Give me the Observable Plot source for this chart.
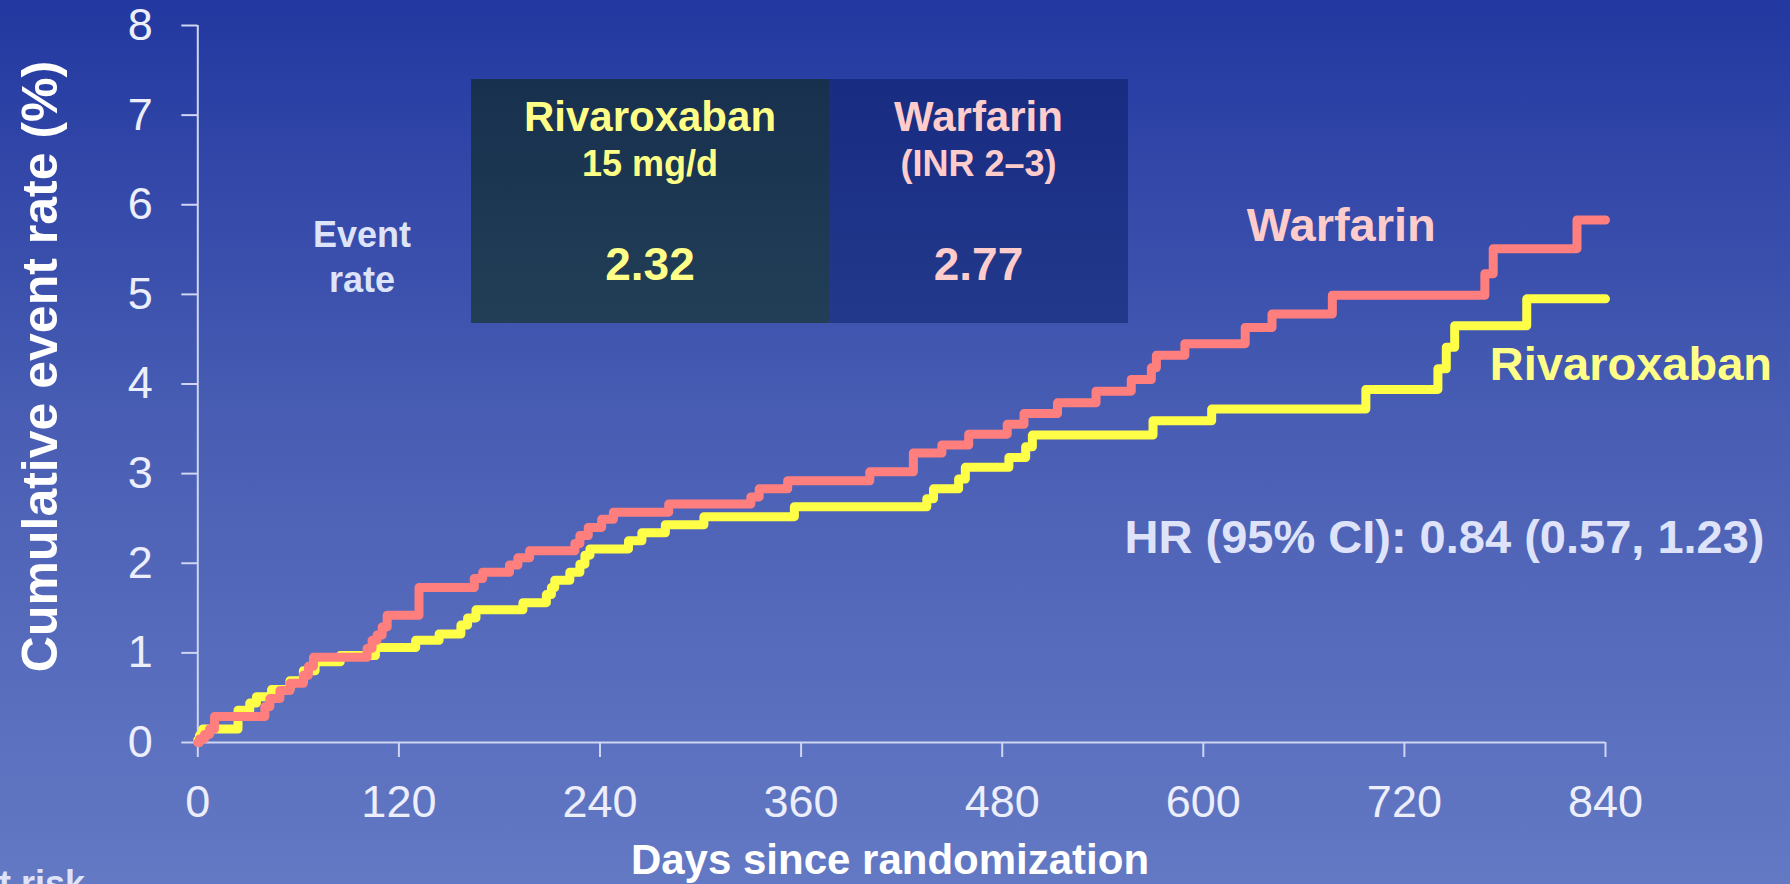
<!DOCTYPE html>
<html>
<head>
<meta charset="utf-8">
<script src="https://cdn.jsdelivr.net/npm/d3@7"></script>
<script src="https://cdn.jsdelivr.net/npm/@observablehq/plot@0.6"></script>
<style>
  html, body { margin: 0; padding: 0; overflow: hidden; }
  #stage {
    position: relative; width: 1790px; height: 884px; overflow: hidden;
    background: linear-gradient(to bottom, #2338a0 0%, #4a5fb4 50%, #6479c4 100%);
    font-family: "Liberation Sans", Arial, Helvetica, sans-serif;
  }
  .cell { position: absolute; }
  #plot, #overlay { position: absolute; left: 0; top: 0; }
  #overlay { pointer-events: none; }
</style>
</head>
<body>
<div id="stage">
  <div class="cell" style="left:471px;top:79px;width:358px;height:244px;background:linear-gradient(to bottom,#17304e,#223f57);"></div>
  <div class="cell" style="left:829px;top:79px;width:299px;height:244px;background:linear-gradient(to bottom,#182c82,#22398b);"></div>
  <div id="plot"></div>
  <svg id="overlay" width="1790" height="884" font-family='"Liberation Sans", Arial, Helvetica, sans-serif' font-weight="bold">
    <text transform="translate(57,366.5) rotate(-90)" text-anchor="middle" font-size="50" fill="#ffffff">Cumulative event rate (%)</text>
    <text x="890" y="874" text-anchor="middle" font-size="42" fill="#ffffff">Days since randomization</text>
    <text x="362" y="246.7" text-anchor="middle" font-size="36" fill="#dde3f8">Event</text>
    <text x="362" y="291.7" text-anchor="middle" font-size="36" fill="#dde3f8">rate</text>
    <text x="85" y="896" text-anchor="end" font-size="36" fill="#dde3f8">No. at risk</text>
    <text x="650" y="131" text-anchor="middle" font-size="42" fill="#ffff88">Rivaroxaban</text>
    <text x="650" y="176" text-anchor="middle" font-size="36" fill="#ffff88">15 mg/d</text>
    <text x="650" y="280" text-anchor="middle" font-size="46" fill="#ffff88">2.32</text>
    <text x="978.5" y="131" text-anchor="middle" font-size="42" fill="#ffcccc">Warfarin</text>
    <text x="978.5" y="176" text-anchor="middle" font-size="36" fill="#ffcccc">(INR 2–3)</text>
    <text x="978.5" y="280" text-anchor="middle" font-size="46" fill="#ffcccc">2.77</text>
  </svg>
</div>
<script>
const xTicks = [0, 120, 240, 360, 480, 600, 720, 840];
const yTicks = [0, 1, 2, 3, 4, 5, 6, 7, 8];

const warfarinDays  = [0, 1, 4, 7, 10, 40, 43, 49, 55, 63, 66, 69, 101, 104, 107, 110, 113, 132, 165, 170, 186, 191, 198, 225, 228, 233, 241, 248, 281, 330, 335, 352, 401, 427, 444, 460, 483, 493, 513, 536, 557, 569, 572, 589, 625, 641, 677, 768, 773, 823, 840];
const warfarinRates = [0, 0.04, 0.09, 0.15, 0.29, 0.40, 0.49, 0.58, 0.66, 0.75, 0.85, 0.95, 1.05, 1.14, 1.20, 1.29, 1.42, 1.73, 1.83, 1.90, 1.98, 2.06, 2.14, 2.22, 2.31, 2.40, 2.49, 2.57, 2.66, 2.74, 2.83, 2.92, 3.02, 3.23, 3.32, 3.44, 3.55, 3.67, 3.79, 3.92, 4.05, 4.18, 4.32, 4.45, 4.63, 4.78, 4.99, 5.23, 5.51, 5.83, 5.83];

const rivaroxabanDays  = [0, 1, 3, 24, 31, 35, 44, 55, 63, 70, 85, 106, 130, 144, 157, 161, 166, 194, 208, 211, 213, 222, 228, 231, 234, 257, 265, 279, 302, 356, 435, 439, 454, 458, 484, 494, 498, 570, 605, 697, 740, 745, 750, 793, 840];
const rivaroxabanRates = [0.03, 0.08, 0.15, 0.36, 0.44, 0.51, 0.59, 0.69, 0.80, 0.90, 0.97, 1.06, 1.14, 1.21, 1.31, 1.39, 1.48, 1.56, 1.65, 1.73, 1.81, 1.90, 1.99, 2.09, 2.16, 2.25, 2.34, 2.43, 2.52, 2.63, 2.72, 2.83, 2.94, 3.07, 3.18, 3.30, 3.43, 3.59, 3.72, 3.94, 4.17, 4.41, 4.65, 4.95, 4.95];

const curveNames = ["Warfarin", "Rivaroxaban"];
const hrText = "HR (95% CI): 0.84 (0.57, 1.23)";

const warfarin = warfarinDays.map((d, i) => ({day: d, rate: warfarinRates[i]}));
const rivaroxaban = rivaroxabanDays.map((d, i) => ({day: d, rate: rivaroxabanRates[i]}));

const axisColor = "#cfd5f3";
const tickTextColor = "#eceefb";
const font = '"Liberation Sans", Arial, Helvetica, sans-serif';

const chart = Plot.plot({
  width: 1790,
  height: 884,
  marginLeft: 197.3,
  marginRight: 185,
  marginTop: 25,
  marginBottom: 142,
  x: {domain: [0, 840]},
  y: {domain: [0, 8]},
  style: {background: "transparent", fontFamily: font, overflow: "visible", color: tickTextColor},
  marks: [
    Plot.ruleY([0], {stroke: axisColor, strokeWidth: 2}),
    Plot.ruleX([0], {stroke: axisColor, strokeWidth: 2}),
    Plot.axisX(xTicks, {tickSize: 15, tickPadding: 28, fontSize: 45, stroke: axisColor, strokeWidth: 2, fill: tickTextColor, label: null, tickFormat: d => String(d)}),
    Plot.axisY(yTicks, {tickSize: 16, tickPadding: 29, fontSize: 45, stroke: axisColor, strokeWidth: 2, fill: tickTextColor, label: null, tickFormat: d => String(d)}),
    Plot.line(rivaroxaban, {x: "day", y: "rate", curve: "step-after", stroke: "#ffff47", strokeWidth: 9, strokeLinejoin: "round"}),
    Plot.line(warfarin, {x: "day", y: "rate", curve: "step-after", stroke: "#ff7f7f", strokeWidth: 9, strokeLinejoin: "round"}),
    Plot.text([{day: 626, rate: 5.595, name: curveNames[0]}], {x: "day", y: "rate", text: "name", textAnchor: "start", lineAnchor: "bottom", fontSize: 47, fontWeight: "bold", fill: "#ffcccc"}),
    Plot.text([{day: 771, rate: 4.047, name: curveNames[1]}], {x: "day", y: "rate", text: "name", textAnchor: "start", lineAnchor: "bottom", fontSize: 47, fontWeight: "bold", fill: "#ffff88"}),
    Plot.text([{day: 553, rate: 2.112, name: hrText}], {x: "day", y: "rate", text: "name", textAnchor: "start", lineAnchor: "bottom", fontSize: 47, fontWeight: "bold", fill: "#dfe3fa"})
  ]
});
document.getElementById("plot").appendChild(chart);
</script>
</body>
</html>
